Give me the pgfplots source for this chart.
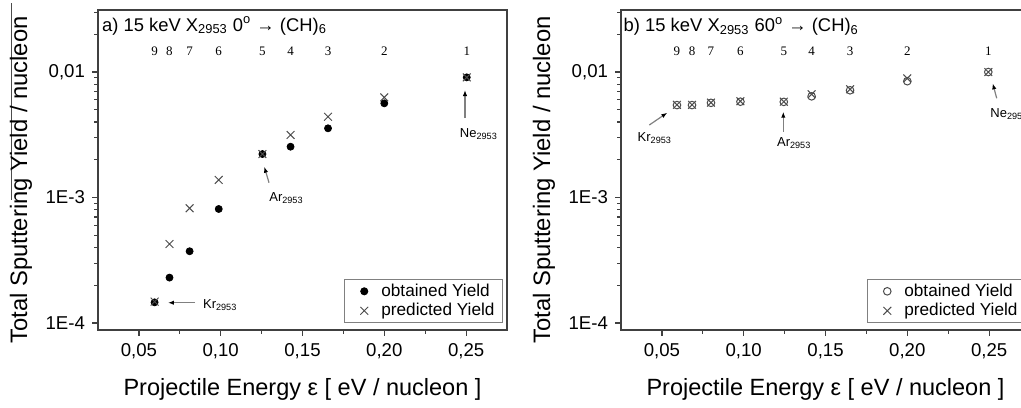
\documentclass[border=0pt]{standalone}
\usepackage{fontspec}
\setmainfont{Liberation Sans}
\newfontfamily\timesfont{Liberation Serif}
\usepackage{pgfplots}
\pgfplotsset{compat=1.18}
\usetikzlibrary{arrows.meta}

\pgfplotsset{
  every axis/.append style={
    scale only axis, width=204.5pt, height=160pt,
    xmin=0.025, xmax=0.275, ymin=8.79e-5, ymax=0.0312,
    xtick={0.05,0.10,0.15,0.20,0.25},
    xticklabels={{0,05},{0,10},{0,15},{0,20},{0,25}},
    minor xtick={0.075,0.125,0.175,0.225},
    ytick={1e-4,1e-3,1e-2},
    yticklabels={1E-4,1E-3,{0,01}},
    minor ytick={2e-4,3e-4,4e-4,5e-4,6e-4,7e-4,8e-4,9e-4,2e-3,3e-3,4e-3,5e-3,6e-3,7e-3,8e-3,9e-3,2e-2,3e-2},
    xtick pos=bottom, ytick pos=left, tick align=outside,
    major tick length=3pt, minor tick length=1.8pt,
    axis line style={black!75, line width=0.75pt},
    tick style={black!75, line width=0.6pt},
    tick label style={font=\fontsize{9.3}{11}\selectfont},
    xlabel style={font=\fontsize{11.75}{14}\selectfont, at={(axis description cs:0.5,-0.185)}, anchor=center},
    ylabel style={font=\fontsize{11.9}{14}\selectfont, at={(axis description cs:-0.1883,0.469)}, anchor=center},
    legend style={at={(axis description cs:1,0)}, anchor=south east,
      xshift=-2pt, yshift=3.5pt, draw=black!50, line width=0.5pt,
      font=\fontsize{8.6}{10}\selectfont, inner xsep=2pt, inner ysep=1pt,
      row sep=0pt, nodes={inner ysep=1pt}},
    legend cell align=left,
    legend image code/.code={\draw[#1] plot coordinates {(7.7pt,0pt)}; \path (0pt,0pt) (14pt,0pt);},
  },
}
\tikzset{
  num/.style={font=\timesfont\fontsize{6.5}{8}\selectfont, inner sep=0pt},
  lab/.style={font=\fontsize{6.5}{8}\selectfont, inner sep=0pt, anchor=west},
  ttl/.style={font=\fontsize{9.2}{11}\selectfont, inner sep=0pt, anchor=base west},
  arr/.style={black!50, line width=0.6pt, -{Latex[length=3pt,width=2.2pt,color=black]}},
}

\begin{document}
\begin{tikzpicture}
\path[use as bounding box] (0,0) rectangle (510.5pt,-203.5pt);

\draw[black!70, line width=0.5pt] (5.5pt,-1.5pt) -- (5.5pt,-100pt);

% a) 0 degrees
\begin{axis}[ymode=log, at={(49pt,-5pt)}, anchor=north west,
  xlabel={Projectile Energy ε [ eV / nucleon ]},
  ylabel={Total Sputtering Yield / nucleon}]
\addplot[only marks, mark=*, mark size=1.75pt, black] table {
x y
0.0596 1.46e-4
0.0687 2.30e-4
0.0810 3.73e-4
0.0988 8.10e-4
0.1255 2.22e-3
0.1427 2.54e-3
0.1656 3.56e-3
0.2000 5.63e-3
0.2504 9.07e-3
};
\addlegendentry{obtained Yield}
\addplot[only marks, mark=x, mark size=2.75pt, black!70, mark options={line width=0.5pt}] table {
x y
0.0596 1.48e-4
0.0687 4.26e-4
0.0810 8.20e-4
0.0988 1.38e-3
0.1255 2.22e-3
0.1427 3.15e-3
0.1656 4.40e-3
0.2000 6.28e-3
0.2504 9.07e-3
};
\addlegendentry{predicted Yield}

\node[ttl] at (axis description cs:0.009,0.934) {a) 15 keV X\textsubscript{2953} 0\textsuperscript{o} → (CH)\textsubscript{6}};

\node[num] at (axis cs:0.0596,0.0147) {9};
\node[num] at (axis cs:0.0687,0.0147) {8};
\node[num] at (axis cs:0.0810,0.0147) {7};
\node[num] at (axis cs:0.0988,0.0147) {6};
\node[num] at (axis cs:0.1255,0.0147) {5};
\node[num] at (axis cs:0.1427,0.0147) {4};
\node[num] at (axis cs:0.1656,0.0147) {3};
\node[num] at (axis cs:0.2000,0.0147) {2};
\node[num] at (axis cs:0.2504,0.0147) {1};

\draw[arr] (axis description cs:0.2372,0.0853) -- (axis description cs:0.1711,0.0853);
\node[lab] at (axis description cs:0.256,0.078) {Kr\textsubscript{2953}};
\draw[arr] (axis description cs:0.4181,0.4603) -- (axis description cs:0.4066,0.5103);
\node[lab] at (axis description cs:0.418,0.412) {Ar\textsubscript{2953}};
\draw[arr] (axis description cs:0.8973,0.6625) -- (axis description cs:0.8973,0.75);
\node[lab] at (axis description cs:0.884,0.613) {Ne\textsubscript{2953}};
\end{axis}

% b) 60 degrees
\begin{axis}[ymode=log, at={(310.5pt,-5pt)}, anchor=north west,
  xlabel={Projectile Energy ε [ eV / nucleon ]},
  ylabel={Total Sputtering Yield / nucleon}]
\addplot[only marks, mark=o, mark size=1.9pt, black!70, mark options={line width=0.5pt}] table {
x y
0.0592 5.45e-3
0.0684 5.45e-3
0.0800 5.68e-3
0.0980 5.80e-3
0.1245 5.78e-3
0.1415 6.40e-3
0.1650 7.15e-3
0.2000 8.45e-3
0.2495 1.00e-2
};
\addlegendentry{obtained Yield}
\addplot[only marks, mark=x, mark size=2.75pt, black!70, mark options={line width=0.5pt}] table {
x y
0.0592 5.48e-3
0.0684 5.48e-3
0.0800 5.71e-3
0.0980 5.85e-3
0.1245 5.80e-3
0.1415 6.65e-3
0.1650 7.29e-3
0.2000 8.90e-3
0.2495 1.00e-2
};
\addlegendentry{predicted Yield}

\node[ttl] at (axis description cs:0.0056,0.932) {b) 15 keV X\textsubscript{2953} 60\textsuperscript{o} → (CH)\textsubscript{6}};

\node[num] at (axis cs:0.0592,0.0147) {9};
\node[num] at (axis cs:0.0684,0.0147) {8};
\node[num] at (axis cs:0.0800,0.0147) {7};
\node[num] at (axis cs:0.0980,0.0147) {6};
\node[num] at (axis cs:0.1245,0.0147) {5};
\node[num] at (axis cs:0.1415,0.0147) {4};
\node[num] at (axis cs:0.1650,0.0147) {3};
\node[num] at (axis cs:0.2000,0.0147) {2};
\node[num] at (axis cs:0.2495,0.0147) {1};

\draw[arr] (axis description cs:0.0692,0.6406) -- (axis description cs:0.1132,0.6791);
\node[lab] at (axis description cs:0.0399,0.60) {Kr\textsubscript{2953}};
\draw[arr] (axis description cs:0.3968,0.6197) -- (axis description cs:0.3968,0.6822);
\node[lab] at (axis description cs:0.3807,0.584) {Ar\textsubscript{2953}};
\draw[arr] (axis description cs:0.9186,0.7241) -- (axis description cs:0.9088,0.7709);
\node[lab] at (axis description cs:0.9022,0.675) {Ne\textsubscript{2953}};
\end{axis}
\end{tikzpicture}
\end{document}
